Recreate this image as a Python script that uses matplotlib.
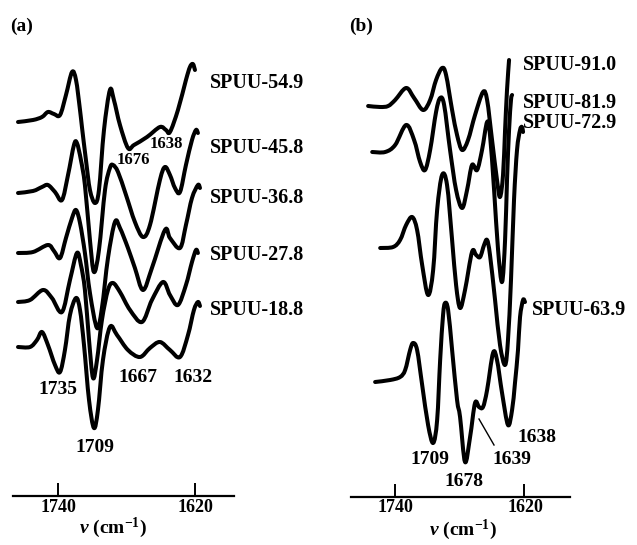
import matplotlib
matplotlib.use('Agg')
import matplotlib.pyplot as plt
from matplotlib.path import Path
from matplotlib.patches import PathPatch
import numpy as np

plt.rcParams['font.family'] = ['Liberation Serif', 'DejaVu Serif']
plt.rcParams['mathtext.fontset'] = 'custom'
plt.rcParams['mathtext.rm'] = 'Liberation Serif:bold'
plt.rcParams['mathtext.it'] = 'Liberation Serif:italic:bold'
plt.rcParams['mathtext.bf'] = 'Liberation Serif:bold'

# ---- panel (a): second-derivative spectra, wavenumber / relative intensity
a_names = ['SPUU-54.9', 'SPUU-45.8', 'SPUU-36.8', 'SPUU-27.8', 'SPUU-18.8']
a_nu = [
    [1775.0, 1761.9, 1754.0, 1748.8, 1743.5, 1738.2, 1733.0, 1727.7, 1724.2, 1720.7,
     1719.0, 1715.5, 1712.0, 1707.6, 1704.1, 1699.7, 1694.5, 1691.0, 1685.7, 1678.7,
     1673.4, 1662.0, 1650.7, 1645.4, 1641.9, 1634.9, 1627.9, 1624.4, 1621.8, 1620.0],
    [1775.0, 1761.9, 1754.0, 1748.8, 1742.6, 1736.5, 1731.2, 1726.0, 1723.4, 1719.9,
     1716.4, 1712.0, 1708.5, 1704.1, 1698.8, 1694.5, 1691.8, 1687.4, 1680.4, 1672.6,
     1665.5, 1659.4, 1650.7, 1646.3, 1641.9, 1637.5, 1633.1, 1627.9, 1622.6, 1619.1, 1617.4],
    [1775.0, 1761.9, 1748.8, 1743.5, 1738.2, 1733.0, 1727.7, 1724.2, 1720.7, 1716.4,
     1712.0, 1705.8, 1701.5, 1696.2, 1690.1, 1685.7, 1678.7, 1672.6, 1665.5, 1657.7,
     1646.3, 1641.9, 1633.1, 1627.9, 1622.6, 1617.4, 1615.6],
    [1775.0, 1764.5, 1753.1, 1745.3, 1736.5, 1729.5, 1723.4, 1719.9, 1716.4, 1712.8,
     1709.3, 1705.8, 1701.5, 1696.2, 1691.8, 1685.7, 1676.9, 1666.4, 1657.7, 1648.0,
     1641.9, 1634.9, 1627.9, 1622.6, 1619.1, 1617.4],
    [1775.0, 1764.5, 1758.4, 1754.0, 1748.8, 1742.6, 1738.2, 1733.9, 1729.5, 1724.2,
     1720.7, 1717.2, 1712.8, 1708.5, 1705.0, 1700.6, 1694.5, 1688.3, 1678.7, 1668.2,
     1659.4, 1650.7, 1641.9, 1633.1, 1626.1, 1620.9, 1617.4, 1615.6],
]
a_val = [
    [0, 2, 5, 10, 8, 7, 27, 50, 42, 12, -5, -38, -68, -81, -68, -8, 32, 22, -3, -26,
     -23, -15, -5, -8, -10, 12, 42, 55, 58, 52],
    [0, 2, 6, 8, 1, -7, 18, 48, 50, 33, 8, -47, -79, -57, 3, 25, 28, 21, -2, -29,
     -44, -32, 13, 26, 18, 5, 1, 28, 53, 63, 60],
    [0, 1, 8, 2, -5, 15, 35, 43, 30, 0, -40, -75, -55, -5, 31, 25, 5, -15, -37, -15,
     23, 15, 5, 28, 55, 68, 65],
    [0, 2, 12, 4, -10, 22, 49, 37, 12, -38, -76, -58, -18, 12, 19, 10, -8, -20, 2, 20,
     7, -3, 17, 40, 52, 49],
    [0, 0, 7, 15, 2, -18, -25, -3, 32, 49, 37, 2, -53, -81, -63, -13, 20, 12, -3, -10,
     -1, 5, -3, -10, 12, 37, 45, 41],
]

# ---- panel (b)
b_names = ['SPUU-91.0', 'SPUU-81.9', 'SPUU-72.9', 'SPUU-63.9']
b_nu = [
    [1765.1, 1753.9, 1746.5, 1740.0, 1729.8, 1722.4, 1714.0, 1707.5, 1702.0, 1696.4,
     1692.7, 1687.1, 1682.5, 1677.8, 1672.3, 1665.8, 1658.4, 1654.6, 1650.0, 1645.4,
     1642.6, 1639.8, 1637.9, 1636.1, 1634.2],
    [1761.3, 1749.3, 1740.0, 1729.8, 1722.4, 1716.8, 1712.2, 1707.5, 1702.0, 1698.2,
     1694.5, 1689.0, 1683.4, 1677.8, 1673.2, 1668.6, 1663.9, 1659.3, 1654.6, 1651.9,
     1648.1, 1644.4, 1640.7, 1637.9, 1636.1, 1634.2, 1632.4, 1631.4],
    [1753.9, 1741.9, 1735.4, 1729.8, 1724.2, 1719.6, 1714.9, 1709.4, 1704.7, 1701.0,
     1696.4, 1691.8, 1687.1, 1683.4, 1679.7, 1675.1, 1668.6, 1664.8, 1661.1, 1657.4,
     1654.6, 1651.9, 1647.2, 1642.6, 1637.9, 1635.2, 1632.4, 1629.6, 1626.8, 1624.0,
     1622.2, 1621.2],
    [1758.6, 1744.6, 1735.4, 1730.7, 1726.1, 1723.3, 1719.6, 1714.9, 1709.4, 1704.7,
     1701.0, 1698.2, 1695.5, 1693.6, 1690.8, 1687.1, 1682.5, 1679.7, 1675.1, 1670.4,
     1665.8, 1662.1, 1658.4, 1654.6, 1649.1, 1645.4, 1640.7, 1635.2, 1631.4, 1628.7,
     1625.9, 1624.0, 1621.2, 1619.4],
]
b_val = [
    [0, -1, 0, 6, 18, 8, -4, 6, 26, 38, 31, -4, -29, -44, -34, -9, 14, 6, -34, -74,
     -91, -69, -24, 16, 46],
    [0, 0, 7, 27, 12, -10, -18, 2, 40, 54, 47, 2, -38, -56, -38, -13, -18, 2, 30, 17,
     -38, -98, -130, -88, -28, 22, 52, 57],
    [0, 1, 8, 23, 31, 18, -17, -47, -22, 38, 73, 63, 8, -37, -60, -42, -4, -7, -9, 3,
     8, -7, -52, -97, -117, -92, -32, 48, 98, 118, 121, 116],
    [0, 2, 5, 12, 32, 39, 32, -3, -43, -61, -38, 22, 67, 79, 72, 32, -18, -35, -80, -55,
     -21, -25, -25, -8, 29, 22, -11, -43, -28, -1, 32, 65, 82, 80],
]

W, H = 637, 545
fig = plt.figure(figsize=(W / 100, H / 100), dpi=100)


def fx(x):
    return x / W


def fy(y):
    return 1 - y / H


def setup(ax, xlim):
    ax.set_xlim(*xlim)
    ax.set_ylim(0, 456)
    for s in ['top', 'left', 'right']:
        ax.spines[s].set_visible(False)
    ax.spines['bottom'].set_linewidth(1.6)
    ax.set_yticks([])
    ax.set_xticks([1740, 1620])
    ax.tick_params(axis='x', direction='in', length=9.5, width=1.4, labelbottom=False)
    ax.patch.set_alpha(0)


def smooth_trace(ax, nu, v, off):
    # draw a smooth pen-like stroke through the read points (bezier path)
    p = np.column_stack([nu, np.array(v, float) + off])
    ext = np.vstack([p[0], p, p[-1]])
    verts = [tuple(p[0])]
    codes = [Path.MOVETO]
    for i in range(1, len(ext) - 2):
        p0, p1, p2, p3 = ext[i - 1], ext[i], ext[i + 1], ext[i + 2]
        c1 = p1 + (p2 - p0) / 6.0
        c2 = p2 - (p3 - p1) / 6.0
        verts += [tuple(c1), tuple(c2), tuple(p2)]
        codes += [Path.CURVE4] * 3
    ax.add_patch(PathPatch(Path(verts, codes), fill=False, lw=2.9,
                           edgecolor='black', joinstyle='round', capstyle='round'))


axa = fig.add_axes([fx(13), fy(496), fx(221), 456 / H])
setup(axa, (1779.4, 1585.8))
a_off = [374, 303, 243, 194, 149]
for nu, v, off in zip(a_nu, a_val, a_off):
    smooth_trace(axa, nu, v, off)

axb = fig.add_axes([fx(351), fy(497), fx(219), 456 / H])
setup(axb, (1781.0, 1577.6))
b_off = [391, 345, 249, 115]
for nu, v, off in zip(b_nu, b_val, b_off):
    smooth_trace(axb, nu, v, off)

tk = dict(fontsize=14, fontweight='bold', ha='center', va='center')
# panel letters
fig.text(fx(22), fy(26), '(a)', **tk)
fig.text(fx(361), fy(26), '(b)', **tk)

# curve names
a_name_y = [83, 148, 198, 255, 310]
for n, y in zip(a_names, a_name_y):
    fig.text(fx(210), fy(y), n, fontsize=14.5, fontweight='bold', ha='left', va='center')
b_name_y = [65, 103, 123]
for n, y in zip(b_names[:3], b_name_y):
    fig.text(fx(523), fy(y), n, fontsize=14.5, fontweight='bold', ha='left', va='center')
fig.text(fx(532), fy(310), b_names[3], fontsize=14.5, fontweight='bold', ha='left', va='center')

# peak labels
for s, x, y in [('1735', 58, 390), ('1709', 95, 447), ('1667', 138, 377), ('1632', 193, 377)]:
    fig.text(fx(x), fy(y), s, **tk)
for s, x, y in [('1676', 133, 160), ('1638', 166, 144)]:
    fig.text(fx(x), fy(y), s, fontsize=12, fontweight='bold', ha='center', va='center')
for s, x, y in [('1709', 430, 460), ('1678', 464, 482), ('1639', 512, 460), ('1638', 537, 437)]:
    fig.text(fx(x), fy(y), s, **tk)
fig.add_artist(plt.Line2D([fx(479), fx(494)], [fy(419), fy(445)], color='black', lw=1.0))

# tick labels and axis titles
for s, x in [('1740', 58), ('1620', 195), ('1740', 395), ('1620', 525)]:
    fig.text(fx(x), fy(507), s, fontsize=13, fontweight='bold', ha='center', va='center')
fig.text(fx(113), fy(528), r'$\nu$ (cm$^{\mathregular{-1}}$)', fontsize=14,
         fontweight='bold', ha='center', va='center')
fig.text(fx(463), fy(530), r'$\nu$ (cm$^{\mathregular{-1}}$)', fontsize=14,
         fontweight='bold', ha='center', va='center')

fig.savefig('out.png', dpi=100)
